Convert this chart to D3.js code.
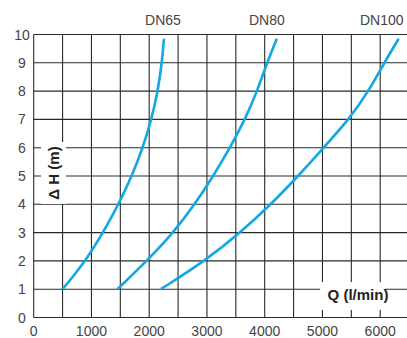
<!DOCTYPE html>
<html><head><meta charset="utf-8">
<script src="https://cdn.jsdelivr.net/npm/d3@7"></script>
<style>
html,body{margin:0;padding:0;background:#fff;}
svg{display:block;font-family:"Liberation Sans",Arial,Helvetica,sans-serif;}
</style></head>
<body><svg id="c" width="407" height="338"></svg>
<script>
// ---- data ----
const seriesNames = ["DN65", "DN80", "DN100"];
const dn65 = [[500,1],[900,2],[1200,3],[1470,4],[1700,5],[1890,6],[2040,7],[2150,8],[2220,9],[2255,9.85]];
const dn80 = [[1450,1],[1960,2],[2420,3],[2790,4],[3110,5],[3400,6],[3660,7],[3870,8],[4040,9],[4210,9.85]];
const dn100 = [[2200,1],[2970,2],[3580,3],[4110,4],[4580,5],[5020,6],[5460,7],[5800,8],[6070,9],[6320,9.85]];
const xTicks = [0,1000,2000,3000,4000,5000,6000];
const xGrid = [0,500,1000,1500,2000,2500,3000,3500,4000,4500,5000,5500,6000];
const yTicks = [0,1,2,3,4,5,6,7,8,9,10];
const xTitle = "Q (l/min)";
const yTitle = "\u0394 H (m)";

const svg = d3.select("#c");
const W = 407;
const x = d3.scaleLinear().domain([0,6000]).range([33.7,380.2]);
const y = d3.scaleLinear().domain([0,10]).range([317.5,34.5]);
const gridColor = "#2a2a2a";

// grid verticals
svg.append("g").selectAll("line").data(xGrid).join("line")
  .attr("x1",d=>x(d)).attr("x2",d=>x(d))
  .attr("y1",y(10)).attr("y2",y(0))
  .attr("stroke",gridColor).attr("stroke-width",1.1);
// grid horizontals
svg.append("g").selectAll("line").data(yTicks).join("line")
  .attr("x1",x(0)).attr("x2",W)
  .attr("y1",d=>y(d)).attr("y2",d=>y(d))
  .attr("stroke",gridColor).attr("stroke-width",1.1);

// tick labels
svg.append("g").selectAll("text").data(yTicks).join("text")
  .attr("x",22).attr("y",d=>y(d)+5)
  .attr("text-anchor","middle").attr("font-size",14).attr("fill","#444")
  .text(d=>d);
svg.append("g").selectAll("text").data(xTicks).join("text")
  .attr("x",d=>x(d)).attr("y",336)
  .attr("text-anchor","middle").attr("font-size",14).attr("fill","#444")
  .text(d=>d);

// axis titles with white boxes
svg.append("rect").attr("x",41).attr("y",142).attr("width",25).attr("height",62).attr("fill","#fff");
svg.append("text")
  .attr("transform","translate(59,173) rotate(-90)")
  .attr("text-anchor","middle").attr("font-size",15).attr("font-weight","bold").attr("fill","#222")
  .text(yTitle);
svg.append("rect").attr("x",320).attr("y",282).attr("width",65).attr("height",28).attr("fill","#fff");
svg.append("text")
  .attr("x",358).attr("y",300)
  .attr("text-anchor","middle").attr("font-size",15).attr("font-weight","bold").attr("fill","#222")
  .text(xTitle);

// curves
const line = d3.line().x(d=>x(d[0])).y(d=>y(d[1])).curve(d3.curveBasis);
const allSeries = [dn65, dn80, dn100];
svg.append("g").selectAll("path").data(allSeries).join("path")
  .attr("d",line).attr("fill","none").attr("stroke","#12a8e4")
  .attr("stroke-width",2.6).attr("stroke-linecap","butt");

// series labels
svg.append("g").selectAll("text").data(allSeries).join("text")
  .attr("x",(d,i)=> i===2 ? 360 : x(d[d.length-1][0]) - [0,10,0][i] + [-1,0,0][i])
  .attr("y",25)
  .attr("text-anchor",(d,i)=> i===2 ? "start" : "middle")
  .attr("font-size",14).attr("fill","#444")
  .text((d,i)=>seriesNames[i]);
</script></body></html>
